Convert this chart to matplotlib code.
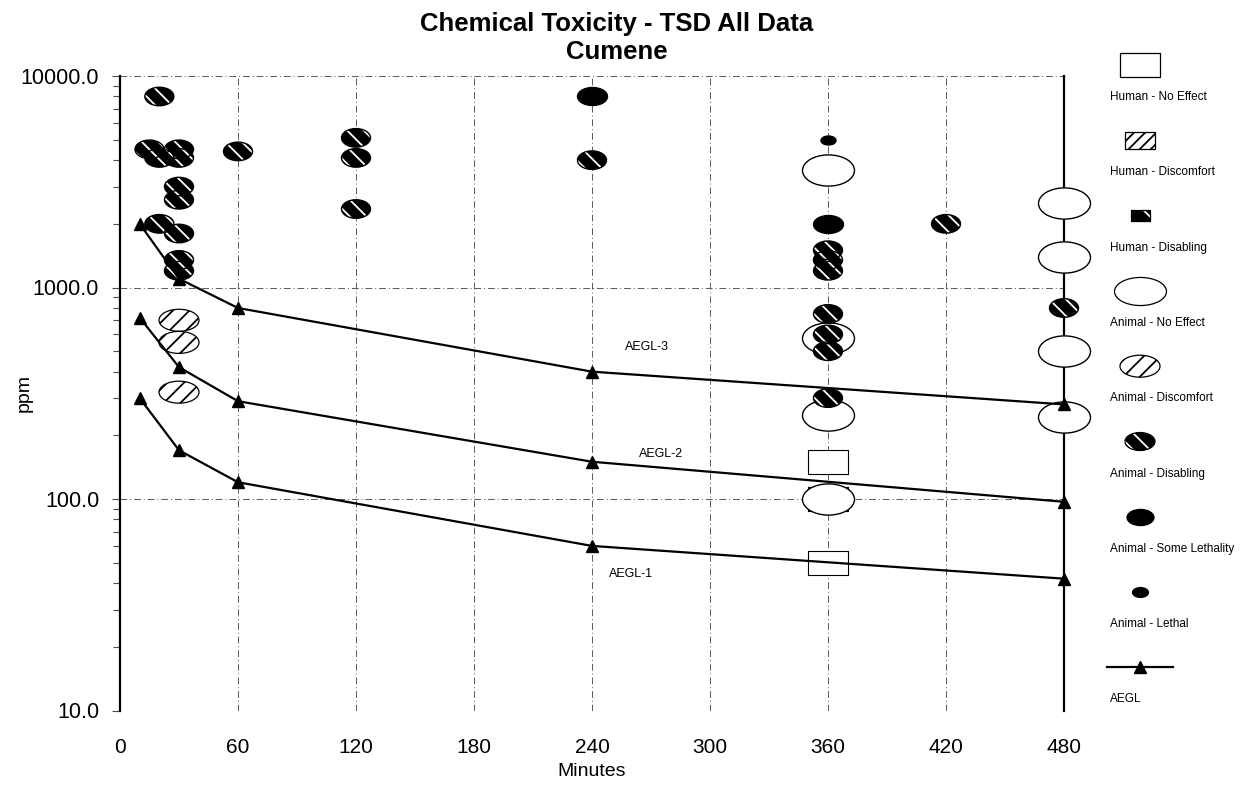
import matplotlib
matplotlib.use("Agg")
import matplotlib.pyplot as plt
from matplotlib.path import Path
from matplotlib.transforms import Affine2D
from matplotlib.ticker import FixedLocator, LogLocator, NullFormatter

plt.rcParams['font.family'] = ['Liberation Sans', 'DejaVu Sans']
plt.rcParams['hatch.linewidth'] = 1.3

# ---- data: exposure time (minutes) and concentration (ppm) ----
aegl_times = [10, 30, 60, 240, 480]
aegl3 = [2000, 1100, 800, 400, 280]
aegl2 = [720, 420, 290, 150, 97]
aegl1 = [300, 170, 120, 60, 42]
aegl_names = ["AEGL-3", "AEGL-2", "AEGL-1"]

human_no_effect_t = [360, 360, 360]
human_no_effect_ppm = [150, 100, 50]

animal_no_effect_t = [360, 360, 360, 360, 480, 480, 480, 480]
animal_no_effect_ppm = [3600, 580, 250, 100, 2500, 1400, 500, 245]

animal_discomfort_t = [30, 30, 30]
animal_discomfort_ppm = [700, 550, 320]

animal_disabling_t = [20, 15, 20, 30, 30, 30, 30, 20, 30, 30, 30,
                      60, 120, 120, 120, 240,
                      360, 360, 360, 360, 360, 360, 360, 420, 480]
animal_disabling_ppm = [8000, 4500, 4100, 4500, 4100, 3000, 2600, 2000, 1800, 1350, 1200,
                        4400, 5100, 4100, 2350, 4000,
                        1500, 1350, 1200, 750, 600, 500, 300, 2000, 800]

some_lethality_t = [240, 360]
some_lethality_ppm = [8000, 2000]

lethal_t = [360]
lethal_ppm = [5000]

legend_labels = ["Human - No Effect", "Human - Discomfort", "Human - Disabling",
                 "Animal - No Effect", "Animal - Discomfort", "Animal - Disabling",
                 "Animal - Some Lethality", "Animal - Lethal", "AEGL"]

x_ticks = list(range(0, 481, 60))
y_ticks = [10, 100, 1000, 10000]


def ellipse(ratio):
    return Path.unit_circle().transformed(Affine2D().scale(1, ratio))


def rect(ratio):
    return Path.unit_rectangle().transformed(Affine2D().translate(-0.5, -0.5).scale(1, ratio))


def px2s(w_px):
    # marker width in pixels (dpi 100) -> scatter area in pt^2
    return (w_px * 72 / 100) ** 2


def draw(ax, t, ppm, marker, w_px, face, hatch=None, hatch_color="black", lw=1.0, z=3):
    s = px2s(w_px)
    if hatch:
        ax.scatter(t, ppm, s=s, marker=marker, facecolor=face, edgecolor=hatch_color,
                   hatch=hatch, linewidths=0, zorder=z, clip_on=False)
        ax.scatter(t, ppm, s=s, marker=marker, facecolor="none", edgecolor="black",
                   linewidths=lw, zorder=z, clip_on=False)
    else:
        ax.scatter(t, ppm, s=s, marker=marker, facecolor=face, edgecolor="black",
                   linewidths=lw, zorder=z, clip_on=False)


fig = plt.figure(figsize=(12.58, 7.91), dpi=100)
ax = fig.add_axes([120 / 1258, 1 - 710.5 / 791, 944 / 1258, 634.5 / 791])

ax.set_yscale("log")
ax.set_xlim(0, 480)
ax.set_ylim(10, 10000)

# markers
draw(ax, human_no_effect_t, human_no_effect_ppm, rect(0.62), 40, "white", lw=0.8, z=3)
draw(ax, animal_no_effect_t, animal_no_effect_ppm, ellipse(0.6), 52, "white", lw=1.0, z=4)
draw(ax, animal_discomfort_t, animal_discomfort_ppm, ellipse(0.55), 40, "white",
     hatch="//", hatch_color="black", lw=0.9, z=5)
draw(ax, animal_disabling_t, animal_disabling_ppm, ellipse(0.64), 29, "black",
     hatch="\\\\", hatch_color="white", lw=1.0, z=6)
draw(ax, some_lethality_t, some_lethality_ppm, ellipse(0.6), 30, "black", z=7)
draw(ax, lethal_t, lethal_ppm, ellipse(0.6), 15, "black", z=8)

# AEGL lines
for vals in (aegl3, aegl2, aegl1):
    ax.plot(aegl_times, vals, color="black", lw=1.6, marker="^", markersize=9,
            zorder=9, clip_on=False)

label_pos = [(268, 524), (275, 163), (260, 44)]
for name, (lx, ly) in zip(aegl_names, label_pos):
    ax.text(lx, ly, name, fontsize=9, ha="center", va="center", zorder=10)

# axes styling
ax.xaxis.set_major_locator(FixedLocator(x_ticks))
ax.set_xticklabels([str(v) for v in x_ticks])
ax.yaxis.set_major_locator(FixedLocator(y_ticks))
ax.set_yticklabels([f"{v:.1f}" for v in y_ticks])
ax.yaxis.set_minor_locator(LogLocator(base=10, subs=range(2, 10)))
ax.yaxis.set_minor_formatter(NullFormatter())

ax.tick_params(axis="x", length=0, labelsize=15, pad=20)
ax.tick_params(axis="y", which="major", direction="out", length=6, width=0.8,
               color="0.3", labelsize=15.5, pad=9)
ax.tick_params(axis="y", which="minor", direction="out", length=5, width=0.8, color="0.3")

ax.grid(True, which="major", color="0.35", lw=0.7, linestyle=(0, (7, 3, 1, 3)))
ax.set_axisbelow(True)
for side in ("top", "bottom"):
    ax.spines[side].set_visible(False)
for side in ("left", "right"):
    ax.spines[side].set_linewidth(1.6)

ax.set_xlabel("Minutes", fontsize=14, labelpad=4)
ax.set_ylabel("ppm", fontsize=14)
ax.yaxis.set_label_coords(-0.092, 0.5)

fig.text(0.49, 1 - 24 / 791, "Chemical Toxicity - TSD All Data", fontsize=18.5,
         fontweight="bold", ha="center", va="center")
fig.text(0.49, 1 - 52 / 791, "Cumene", fontsize=18.5, fontweight="bold",
         ha="center", va="center")

# legend: marker above text, stacked down the right side
lax = fig.add_axes([0, 0, 1, 1])
lax.set_xlim(0, 1258)
lax.set_ylim(791, 0)
lax.axis("off")

mx, tx = 1140, 1110
step = 75.3
ys = [65 + step * i for i in range(len(legend_labels))]

leg_styles = [
    dict(marker=rect(0.62), w=40, face="white", hatch=None, hc="black"),
    dict(marker=rect(0.57), w=30, face="white", hatch="///", hc="black"),
    dict(marker=rect(0.58), w=19, face="black", hatch="\\", hc="white"),
    dict(marker=ellipse(0.54), w=52, face="white", hatch=None, hc="black"),
    dict(marker=ellipse(0.55), w=40, face="white", hatch="//", hc="black"),
    dict(marker=ellipse(0.6), w=30, face="black", hatch="\\\\", hc="white"),
    dict(marker=ellipse(0.6), w=27, face="black", hatch=None, hc="black"),
    dict(marker=ellipse(0.62), w=16, face="black", hatch=None, hc="black"),
]
for y, st in zip(ys, leg_styles):
    draw(lax, [mx], [y], st["marker"], st["w"], st["face"], hatch=st["hatch"],
         hatch_color=st["hc"], lw=0.9)
lax.plot([1107, 1173], [ys[-1], ys[-1]], color="black", lw=1.6)
lax.plot([mx], [ys[-1]], color="black", marker="^", markersize=9, lw=0)

for y, lbl in zip(ys, legend_labels):
    lax.text(tx, y + 32, lbl, fontsize=8.5, ha="left", va="center")

fig.savefig("out.png", dpi=100)
